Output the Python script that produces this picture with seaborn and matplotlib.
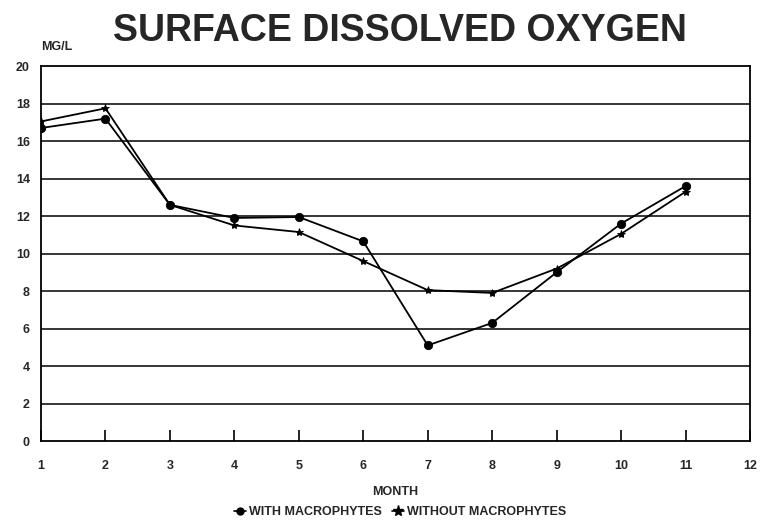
import numpy as np
import pandas as pd
import matplotlib
matplotlib.use("Agg")
import matplotlib.pyplot as plt
import seaborn as sns
from matplotlib.lines import Line2D

# dados
meses = [1, 2, 3, 4, 5, 6, 7, 8, 9, 10, 11]
com_macrofitas = [16.7, 17.2, 12.6, 11.9, 11.95, 10.65, 5.1, 6.3, 9.0, 11.6, 13.6]
sem_macrofitas = [17.05, 17.75, 12.6, 11.5, 11.15, 9.6, 8.05, 7.9, 9.2, 11.05, 13.3]

df = pd.DataFrame({
    "MONTH": meses * 2,
    "MG/L": com_macrofitas + sem_macrofitas,
    "serie": ["WITH MACROPHYTES"] * len(meses) + ["WITHOUT MACROPHYTES"] * len(meses),
})

sns.set_style("white")
plt.rcParams["font.family"] = ["Liberation Sans", "DejaVu Sans"]

fig = plt.figure(figsize=(7.69, 5.25), dpi=100)
ax = fig.add_axes([0.0533, 0.16, 0.922, 0.714])

sns.lineplot(data=df, x="MONTH", y="MG/L", style="serie",
             markers={"WITH MACROPHYTES": "o", "WITHOUT MACROPHYTES": "*"},
             dashes=False, color="black", linewidth=1.3, markersize=6,
             markeredgecolor="black", markeredgewidth=0.6, ax=ax, legend=False)

# grade horizontal
for v in range(2, 20, 2):
    ax.axhline(v, color="black", linewidth=1.1, zorder=0)

ax.set_xlim(1, 12)
ax.set_ylim(0, 20)
ax.set_xticks(range(1, 13))
ax.set_yticks(range(0, 21, 2))
ax.tick_params(axis="x", bottom=True, direction="in", length=8, width=1.2, color="black", pad=14, labelsize=9)
ax.tick_params(axis="y", direction="in", length=0, pad=8, labelsize=9)
for lbl in ax.get_xticklabels() + ax.get_yticklabels():
    lbl.set_fontweight("bold")
for s in ax.spines.values():
    s.set_color("black")
    s.set_linewidth(1.3)

ax.set_xlabel("MONTH", fontsize=9, fontweight="bold", labelpad=10)
ax.set_ylabel("")
ax.text(0.0, 1.035, "MG/L", transform=ax.transAxes, fontsize=9, fontweight="bold", ha="left", va="bottom")

fig.suptitle("SURFACE DISSOLVED OXYGEN", x=0.52, y=0.975, fontsize=27, fontweight="bold", va="top")

handles = [Line2D([], [], color="black", marker="o", markersize=5, linewidth=1.2),
           Line2D([], [], color="black", marker="*", markersize=8, linewidth=1.2)]
fig.legend(handles, ["WITH MACROPHYTES", "WITHOUT MACROPHYTES"], loc="center", bbox_to_anchor=(0.52, 0.025),
           ncol=2, frameon=False, handlelength=1.0, handletextpad=0.2, columnspacing=0.8,
           prop={"size": 9, "weight": "bold"})

fig.savefig("out.png", dpi=100)
